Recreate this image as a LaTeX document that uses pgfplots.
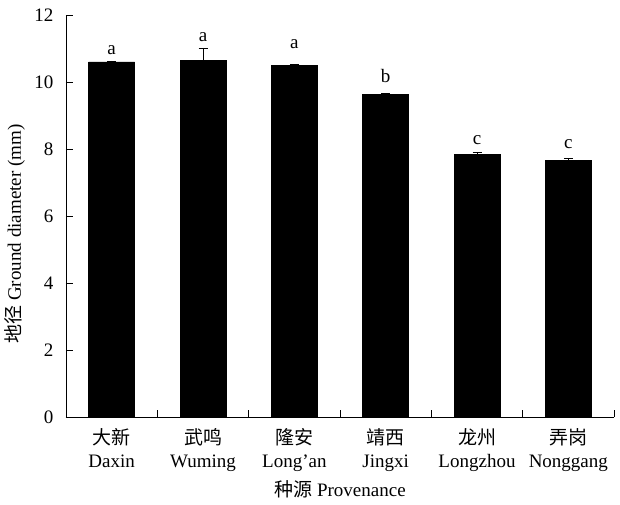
\documentclass[border=0pt]{standalone}
\usepackage{fontspec}
\setmainfont{Liberation Serif}
\newfontfamily\cjk{Noto Sans CJK SC}
\usepackage{pgfplots}
\pgfplotsset{compat=1.18}
\usepackage{pgfplotstable}

% mean ground diameter (mm) and standard error per provenance
\pgfplotstableread{
x  mean   err
0  10.60  0.03
1  10.65  0.37
2  10.49  0.04
3  9.63   0.03
4  7.84   0.05
5  7.66   0.07
}\diamdata

% significance letters (baseline height in data units)
\pgfplotstableread{
x  ly     lab
0  10.81  a
1  11.22  a
2  11.01  a
3  9.97   b
4  8.12   c
5  8.00   c
}\letters

\begin{document}
\begin{tikzpicture}
\useasboundingbox (-66pt,-88pt) rectangle (554pt,417pt);
\begin{axis}[
  at={(0,0)}, anchor=south west,
  scale only axis,
  width=548pt, height=402pt,
  font=\fontsize{19}{23}\selectfont,
  /pgf/number format/assume math mode=true,
  axis lines=left,
  axis line style={-, line width=0.8pt},
  xmin=-0.5, xmax=5.5,
  ymin=0, ymax=12,
  ytick={0,2,...,12},
  xtick={0,...,5},
  xticklabels={
    {{\cjk 大新}\\Daxin},
    {{\cjk 武鸣}\\Wuming},
    {{\cjk 隆安}\\Long’an},
    {{\cjk 靖西}\\Jingxi},
    {{\cjk 龙州}\\Longzhou},
    {{\cjk 弄岗}\\Nonggang}},
  xticklabel style={align=center, yshift=-8pt},
  yticklabel style={xshift=-9pt},
  minor xtick={0.5,1.5,...,5.5},
  every major x tick/.append style={draw=none},
  tick align=inside,
  major tick length=7pt,
  minor tick length=7pt,
  tick style={line width=0.8pt, black},
  xlabel={{\cjk 种源} Provenance},
  ylabel={{\cjk 地径} Ground diameter (mm)},
  every axis x label/.style={at={(axis description cs:0.5,0)}, yshift=-72pt, anchor=center},
  every axis y label/.style={at={(axis description cs:0,0.5)}, xshift=-51pt, yshift=-18pt, rotate=90, anchor=center},
]
\addplot[ybar, bar width=46pt, fill=black, draw=black,
  error bars/.cd, y dir=plus, y explicit,
  error bar style={line width=0.6pt, black},
  error mark options={rotate=90, mark size=4.5pt, line width=0.6pt}]
  table[x=x, y=mean, y error=err] {\diamdata};
\addplot[draw=none, mark=none,
  nodes near coords, point meta=explicit symbolic,
  every node near coord/.append style={anchor=base, inner sep=0pt, font=\fontsize{19}{23}\selectfont}]
  table[x=x, y=ly, meta=lab] {\letters};
\end{axis}
\end{tikzpicture}
\end{document}
